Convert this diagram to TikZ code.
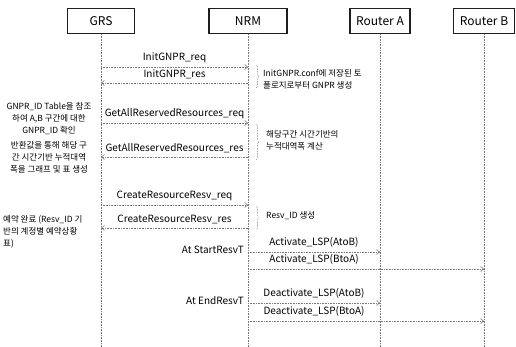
\documentclass[tikz,border=0pt]{standalone}
\usepackage{fontspec}
\setmainfont{Noto Sans CJK KR}
\usetikzlibrary{arrows.meta}
\usetikzlibrary{decorations.pathreplacing}
\definecolor{linie}{RGB}{120,120,120}
\definecolor{kasten}{RGB}{30,30,30}

\tikzset{
  entity/.style={draw=kasten, line width=1.2pt, minimum height=25pt, inner sep=2pt, font=\fontsize{12}{14}\selectfont},
  lifeline/.style={linie, densely dotted, line width=0.6pt},
  msg/.style={linie, densely dotted, line width=0.6pt, -{Straight Barb[length=3pt,width=5pt]}},
  msgtext/.style={font=\fontsize{10}{12}\selectfont, inner sep=1pt, text=black},
  note/.style={font=\fontsize{8.5}{12}\selectfont, inner sep=0pt},
  klammer/.style={linie, densely dotted, line width=0.6pt, decorate, decoration={brace, amplitude=3pt}},
}

\begin{document}
\begin{tikzpicture}[x=1pt, y=-1pt]
    \useasboundingbox (0,0) rectangle (516,347);

    % Teilnehmer
    \node[entity, minimum width=67pt] (GRS) at (101,21) {GRS};
    \node[entity, minimum width=78pt] (NRM) at (248,21) {NRM};
    \node[entity, minimum width=60pt] (RA) at (380,21) {Router A};
    \node[entity, minimum width=61pt] (RB) at (484,21) {Router B};

    % Lebenslinien
    \coordinate (ende) at (0,347);
    \foreach \n in {GRS,NRM,RA,RB}
        \draw[lifeline] (\n.south) -- (\n |- ende);

    % Hoehen der Nachrichten
    \foreach \m/\y in {m1/67, m2/83, m3/123, m4/157, m5/205, m6/228, m7/252, m8/269, m9/303, m10/321}
        \coordinate (\m) at (0,\y);

    \draw[msg] (GRS |- m1) -- node[msgtext, above=3pt] {InitGNPR\_req} (NRM |- m1);
    \draw[msg] (NRM |- m2) -- node[msgtext, above=3pt] {InitGNPR\_res} (GRS |- m2);
    \draw[msg] (GRS |- m3) -- node[msgtext, above=3pt] {GetAllReservedResources\_req} (NRM |- m3);
    \draw[msg] (NRM |- m4) -- node[msgtext, above=3pt] {GetAllReservedResources\_res} (GRS |- m4);
    \draw[msg] (GRS |- m5) -- node[msgtext, above=3pt] {CreateResourceResv\_req} (NRM |- m5);
    \draw[msg] (NRM |- m6) -- node[msgtext, above=3pt] {CreateResourceResv\_res} (GRS |- m6);

    \draw[msg] (NRM |- m7) -- node[msgtext, above=3pt] {Activate\_LSP(AtoB)} (RA |- m7);
    \draw[msg] (NRM |- m8) -- node[msgtext, above=3pt, pos=0.28] {Activate\_LSP(BtoA)} (RB |- m8);
    \draw[msg] (NRM |- m9) -- node[msgtext, above=3pt] {Deactivate\_LSP(AtoB)} (RA |- m9);
    \draw[msg] (NRM |- m10) -- node[msgtext, above=3pt, pos=0.28] {Deactivate\_LSP(BtoA)} (RB |- m10);

    \node[msgtext, anchor=south east] (start) at ([xshift=-3pt, yshift=-3pt]NRM |- m7) {At StartResvT};
    \node[msgtext, anchor=south east] (end) at ([xshift=-3pt, yshift=-3pt]NRM |- m9) {At EndResvT};

    % Bemerkungen GRS
    \node[note, align=center] (n1) at (49,119) {GNPR\_ID Table을 참조\\하여 A,B 구간에 대한\\GNPR\_ID 확인};
    \node[note, align=center] (n2) at (49,157) {반환값을 통해 해당 구\\간 시간기반 누적대역\\폭을 그래프 및 표 생성};
    \node[note, align=left, anchor=west] (n3) at (3,232) {예약 완료 (Resv\_ID 기\\반의 계정별 예약상황\\표)};

    % Bemerkungen NRM
    \coordinate (k1a) at (256,65);
    \coordinate (k1b) at (256,88);
    \coordinate (k2a) at (256,124);
    \coordinate (k2b) at (256,160);
    \coordinate (k3a) at (256,206);
    \coordinate (k3b) at (256,230);
    \draw[klammer] (k1a) -- (k1b);
    \draw[klammer] (k2a) -- (k2b);
    \draw[klammer] (k3a) -- (k3b);
    \node[note, align=left, anchor=west] (r1) at (263,79) {InitGNPR.conf에 저장된 토\\폴로지로부터 GNPR 생성};
    \node[note, align=left, anchor=west] (r2) at (266,140) {해당구간 시간기반의\\누적대역폭 계산};
    \node[note, align=left, anchor=west] (r3) at (266,216) {Resv\_ID 생성};

\end{tikzpicture}
\end{document}
